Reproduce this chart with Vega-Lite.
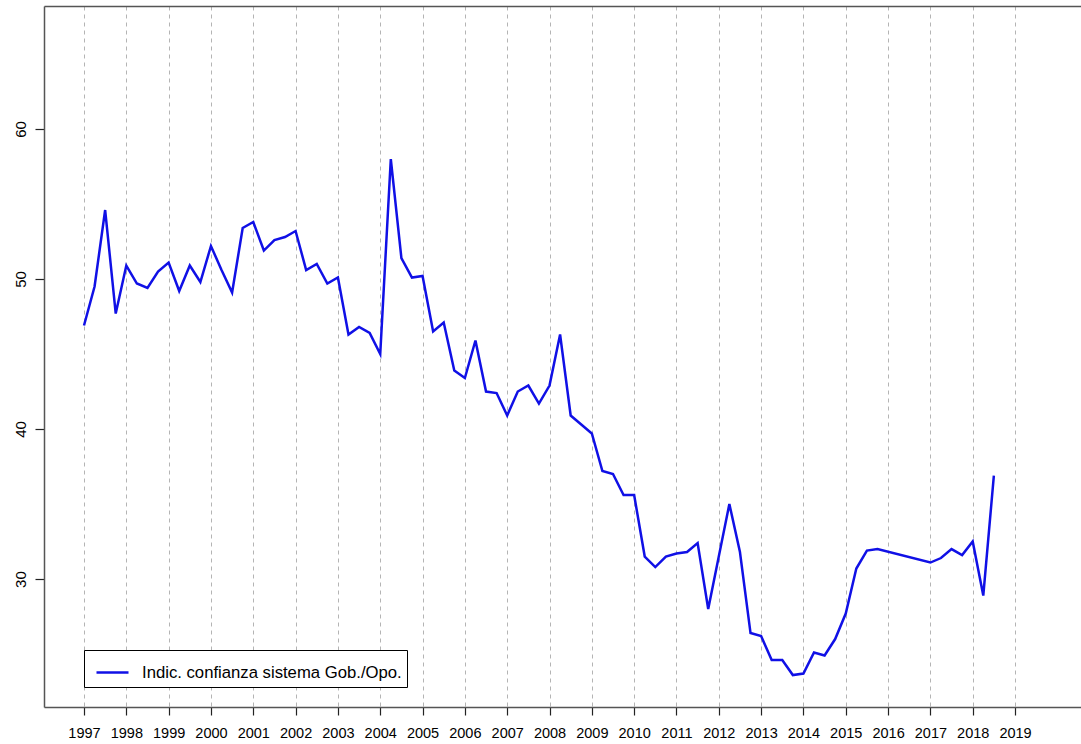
{
  "$schema": "https://vega.github.io/schema/vega-lite/v6.json",
  "width": 1037,
  "height": 701,
  "autosize": {"type": "none"},
  "padding": {"left": 44, "top": 6, "right": 0, "bottom": 32},
  "background": "white",
  "view": {"stroke": "transparent", "strokeWidth": 0, "fill": null},
  "config": {
    "view": {"stroke": "transparent", "strokeWidth": 0},
    "font": "Liberation Sans",
    "axis": {"labelFont": "Liberation Sans", "labelColor": "#000000"}
  },
  "data": {
    "values": [
      {"t": 1997.00, "v": 46.9}, {"t": 1997.25, "v": 49.5}, {"t": 1997.50, "v": 54.6}, {"t": 1997.75, "v": 47.7},
      {"t": 1998.00, "v": 50.9}, {"t": 1998.25, "v": 49.7}, {"t": 1998.50, "v": 49.4}, {"t": 1998.75, "v": 50.5},
      {"t": 1999.00, "v": 51.1}, {"t": 1999.25, "v": 49.2}, {"t": 1999.50, "v": 50.9}, {"t": 1999.75, "v": 49.8},
      {"t": 2000.00, "v": 52.2}, {"t": 2000.25, "v": 50.6}, {"t": 2000.50, "v": 49.1}, {"t": 2000.75, "v": 53.4},
      {"t": 2001.00, "v": 53.8}, {"t": 2001.25, "v": 51.9}, {"t": 2001.50, "v": 52.6}, {"t": 2001.75, "v": 52.8},
      {"t": 2002.00, "v": 53.2}, {"t": 2002.25, "v": 50.6}, {"t": 2002.50, "v": 51.0}, {"t": 2002.75, "v": 49.7},
      {"t": 2003.00, "v": 50.1}, {"t": 2003.25, "v": 46.3}, {"t": 2003.50, "v": 46.8}, {"t": 2003.75, "v": 46.4},
      {"t": 2004.00, "v": 45.0}, {"t": 2004.25, "v": 58.0}, {"t": 2004.50, "v": 51.4}, {"t": 2004.75, "v": 50.1},
      {"t": 2005.00, "v": 50.2}, {"t": 2005.25, "v": 46.5}, {"t": 2005.50, "v": 47.1}, {"t": 2005.75, "v": 43.9},
      {"t": 2006.00, "v": 43.4}, {"t": 2006.25, "v": 45.9}, {"t": 2006.50, "v": 42.5}, {"t": 2006.75, "v": 42.4},
      {"t": 2007.00, "v": 40.9}, {"t": 2007.25, "v": 42.5}, {"t": 2007.50, "v": 42.9}, {"t": 2007.75, "v": 41.7},
      {"t": 2008.00, "v": 42.9}, {"t": 2008.25, "v": 46.3}, {"t": 2008.50, "v": 40.9}, {"t": 2008.75, "v": 40.3},
      {"t": 2009.00, "v": 39.7}, {"t": 2009.25, "v": 37.2}, {"t": 2009.50, "v": 37.0}, {"t": 2009.75, "v": 35.6},
      {"t": 2010.00, "v": 35.6}, {"t": 2010.25, "v": 31.5}, {"t": 2010.50, "v": 30.8}, {"t": 2010.75, "v": 31.5},
      {"t": 2011.00, "v": 31.7}, {"t": 2011.25, "v": 31.8}, {"t": 2011.50, "v": 32.4}, {"t": 2011.75, "v": 28.0},
      {"t": 2012.00, "v": 31.5}, {"t": 2012.25, "v": 35.0}, {"t": 2012.50, "v": 31.8}, {"t": 2012.75, "v": 26.4},
      {"t": 2013.00, "v": 26.2}, {"t": 2013.25, "v": 24.6}, {"t": 2013.50, "v": 24.6}, {"t": 2013.75, "v": 23.6},
      {"t": 2014.00, "v": 23.7}, {"t": 2014.25, "v": 25.1}, {"t": 2014.50, "v": 24.9}, {"t": 2014.75, "v": 26.0},
      {"t": 2015.00, "v": 27.7}, {"t": 2015.25, "v": 30.7}, {"t": 2015.50, "v": 31.9}, {"t": 2015.75, "v": 32.0},
      {"t": 2017.00, "v": 31.1}, {"t": 2017.25, "v": 31.4}, {"t": 2017.50, "v": 32.0}, {"t": 2017.75, "v": 31.6},
      {"t": 2018.00, "v": 32.5}, {"t": 2018.25, "v": 28.9}, {"t": 2018.50, "v": 36.9}
    ]
  },
  "layer": [
    {
      "mark": {"type": "line", "strokeWidth": 2.5, "strokeJoin": "miter"},
      "encoding": {
        "x": {
          "field": "t",
          "type": "quantitative",
          "scale": {"domain": [1996.055, 2020.559], "nice": false, "zero": false},
          "axis": {
            "title": null,
            "values": [1997, 1998, 1999, 2000, 2001, 2002, 2003, 2004, 2005, 2006, 2007, 2008, 2009, 2010, 2011, 2012, 2013, 2014, 2015, 2016, 2017, 2018, 2019],
            "format": "d",
            "labelFontSize": 14.5,
            "labelPadding": 11,
            "labelBaseline": "top",
            "labelFlush": false,
            "labelOverlap": false,
            "tickSize": 8,
            "tickColor": "#222222",
            "tickWidth": 1.2,
            "domainColor": "#555555",
            "domainWidth": 1.5,
            "grid": true,
            "gridColor": "#b4b4b4",
            "gridDash": [4, 4],
            "gridWidth": 1
          }
        },
        "y": {
          "field": "v",
          "type": "quantitative",
          "scale": {"domain": [21.47, 68.2], "nice": false, "zero": false},
          "axis": {
            "title": null,
            "values": [30, 40, 50, 60],
            "labelAngle": -90,
            "labelAlign": "center",
            "labelBaseline": "alphabetic",
            "labelFontSize": 15,
            "labelPadding": 10,
            "tickSize": 9,
            "tickColor": "#222222",
            "tickWidth": 1.2,
            "domainColor": "#555555",
            "domainWidth": 1.5,
            "grid": false
          }
        },
        "color": {
          "datum": "Indic. confianza sistema Gob./Opo.",
          "type": "nominal",
          "scale": {"range": ["#1010e6"]},
          "legend": {
            "title": null,
            "orient": "none",
            "legendX": 40,
            "legendY": 644,
            "padding": 5,
            "symbolOffset": 6,
            "strokeColor": "#000000",
            "fillColor": "#ffffff",
            "cornerRadius": 0,
            "symbolType": "stroke",
            "symbolSize": 1024,
            "symbolStrokeWidth": 2.5,
            "labelFontSize": 16.7,
            "labelFont": "Liberation Sans",
            "labelOffset": 12,
            "labelColor": "#000000",
            "labelLimit": 400
          }
        }
      }
    },
    {
      "mark": {"type": "line", "opacity": 0},
      "encoding": {
        "x": {
          "field": "t",
          "type": "quantitative",
          "scale": {"domain": [1996.055, 2020.559], "nice": false, "zero": false},
          "axis": {
            "orient": "top",
            "title": null,
            "labels": false,
            "ticks": false,
            "grid": false,
            "domainColor": "#555555",
            "domainWidth": 1.5
          }
        },
        "y": {"field": "v", "type": "quantitative"}
      }
    }
  ],
  "resolve": {"axis": {"x": "independent"}}
}
